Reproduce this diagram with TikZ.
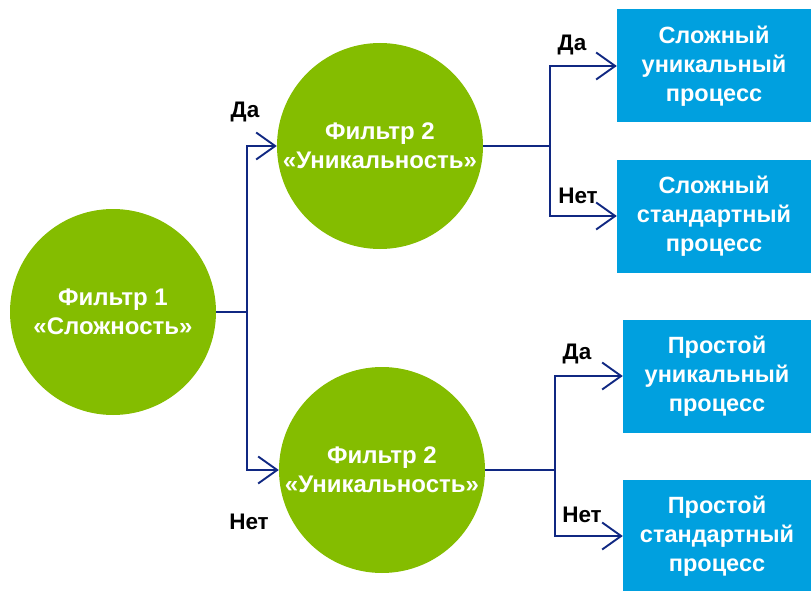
\documentclass[tikz,border=0pt]{standalone}
\usepackage{fontspec}
\setmainfont{Liberation Sans}
\usetikzlibrary{arrows.meta}
\definecolor{filtergreen}{RGB}{132,189,0}
\definecolor{procblue}{RGB}{0,160,223}
\definecolor{linkblue}{RGB}{16,40,130}
\tikzset{
  filtre/.style={circle, fill=filtergreen, minimum size=206pt, inner sep=0pt,
    text=white, align=center, font=\fontsize{24}{29}\selectfont\bfseries},
  proc/.style={rectangle, fill=procblue, minimum width=194pt, minimum height=113pt,
    inner sep=0pt, text=white, align=center, font=\fontsize{23.5}{29}\selectfont\bfseries},
  link/.style={draw=linkblue, line width=1.9pt},
  linkarr/.style={link, -{Straight Barb[length=19pt,width=27pt,line width=1.9pt]}},
  answer/.style={font=\fontsize{22.5}{24}\selectfont\bfseries, text=black}
}
\begin{document}
\begin{tikzpicture}[x=1pt,y=-1pt]
    \useasboundingbox (0,0) rectangle (811,591);
    % Фильтры
    \node[filtre] (f1)  at (113,312) {Фильтр 1\\«Сложность»};
    \node[filtre] (f2a) at (380,146) {Фильтр 2\\«Уникальность»};
    \node[filtre] (f2b) at (382,470) {Фильтр 2\\«Уникальность»};
    % Процессы
    \node[proc] (p1) at (714,66)  {Сложный\\уникальный\\процесс};
    \node[proc] (p2) at (714,216) {Сложный\\стандартный\\процесс};
    \node[proc, minimum width=188pt] (p3) at (717,376) {Простой\\уникальный\\процесс};
    \node[proc, minimum width=188pt] (p4) at (717,536) {Простой\\стандартный\\процесс};
    % Развилки
    \coordinate (j1) at (247,312);
    \coordinate (j2) at (550,146);
    \coordinate (j3) at (555,470);
    \draw[link] (f1) -- (j1);
    \draw[linkarr] (j1) |- (f2a);
    \draw[linkarr] (j1) |- (f2b);
    \draw[link] (f2a) -- (j2);
    \draw[linkarr] (j2) |- (p1);
    \draw[linkarr] (j2) |- (p2);
    \draw[link] (f2b) -- (j3);
    \draw[linkarr] (j3) |- (p3);
    \draw[linkarr] (j3) |- (p4);
    % Ответы
    \node[answer] (a1) at (245,112) {Да};
    \node[answer] (n1) at (249,522) {Нет};
    \node[answer] (a2) at (572,45)  {Да};
    \node[answer] (n2) at (578,196) {Нет};
    \node[answer] (a3) at (577,354) {Да};
    \node[answer] (n3) at (582,515) {Нет};
\end{tikzpicture}
\end{document}
